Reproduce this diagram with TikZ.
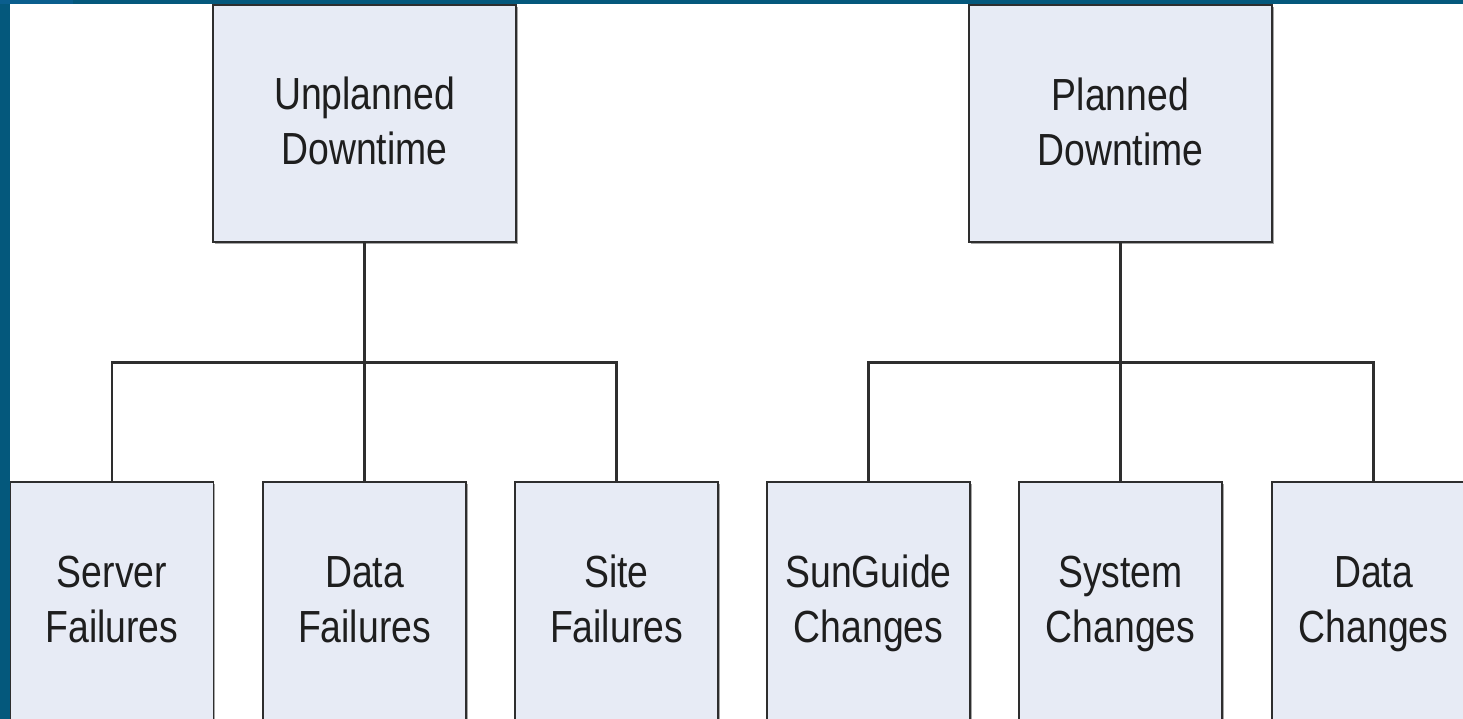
\documentclass[tikz,border=0pt]{standalone}
\usepackage{fontspec}
\usetikzlibrary{shadows}
\newfontfamily\boxfont[FakeStretch=0.83]{Liberation Sans}
\definecolor{bgblue}{HTML}{04587C}
\definecolor{bgblue2}{HTML}{0A5E8E}
\definecolor{boxfill}{HTML}{E7EBF5}
\definecolor{boxline}{HTML}{2E2E2E}
\definecolor{txt}{HTML}{1E1E1E}
\tikzset{
  topbox/.style={draw=boxline, line width=1.8pt, fill=boxfill, rectangle,
    minimum width=303pt, minimum height=237pt, inner sep=0pt,
    drop shadow={shadow xshift=1.6pt, shadow yshift=-1.6pt, opacity=0.35, fill=black}},
  botbox/.style={draw=boxline, line width=1.8pt, fill=boxfill, rectangle,
    minimum width=203pt, minimum height=300pt, inner sep=0pt,
    drop shadow={shadow xshift=1.6pt, shadow yshift=-1.6pt, opacity=0.35, fill=black}},
  lbl/.style={align=center, anchor=base, inner sep=0pt, text=txt,
    font=\boxfont\fontsize{45}{55}\selectfont},
  conn/.style={draw=boxline, line width=2.2pt}
}
\begin{document}
\begin{tikzpicture}[x=1pt,y=-1pt]
\useasboundingbox (0,0) rectangle (1463,719);
\clip (0,0) rectangle (1463,719);
% background
\fill[bgblue] (0,0) rectangle (1463,719);
\fill[bgblue2] (0,0) rectangle (73,4);
\fill[white] (10,4) rectangle (1463,719);

% boxes
\node[topbox] (unpl) at (364.5,123.5) {};
\node[topbox] (plan) at (1120.5,123.5) {};
\node[botbox] (sf)  at (112,632) {};
\node[botbox] (df)  at (364.5,632) {};
\node[botbox] (stf) at (616.5,632) {};
\node[botbox] (sgc) at (868.5,632) {};
\node[botbox] (syc) at (1120.5,632) {};
\node[botbox] (dc)  at (1373.5,632) {};

% connectors
\coordinate (ubar) at (364.5,362.5);
\coordinate (pbar) at (1120.5,362.5);
\draw[conn] (unpl.south) -- (ubar);
\draw[conn] (sf.north) |- (ubar) -| (stf.north);
\draw[conn] (ubar) -- (df.north);
\draw[conn] (plan.south) -- (pbar);
\draw[conn] (sgc.north) |- (pbar) -| (dc.north);
\draw[conn] (pbar) -- (syc.north);

% labels (anchor base = baseline of the last line)
\node[lbl] (t-unpl) at (364.5,165) {Unplanned\\Downtime};
\node[lbl] (t-plan) at (1120.5,166) {Planned\\Downtime};
\node[lbl] (t-sf)  at (112,642) {Server\\Failures};
\node[lbl] (t-df)  at (364.5,642) {Data\\Failures};
\node[lbl] (t-stf) at (616.5,642) {Site\\Failures};
\node[lbl] (t-sgc) at (868.5,642) {SunGuide\\Changes};
\node[lbl] (t-syc) at (1120.5,642) {System\\Changes};
\node[lbl] (t-dc)  at (1373.5,642) {Data\\Changes};
\end{tikzpicture}
\end{document}
